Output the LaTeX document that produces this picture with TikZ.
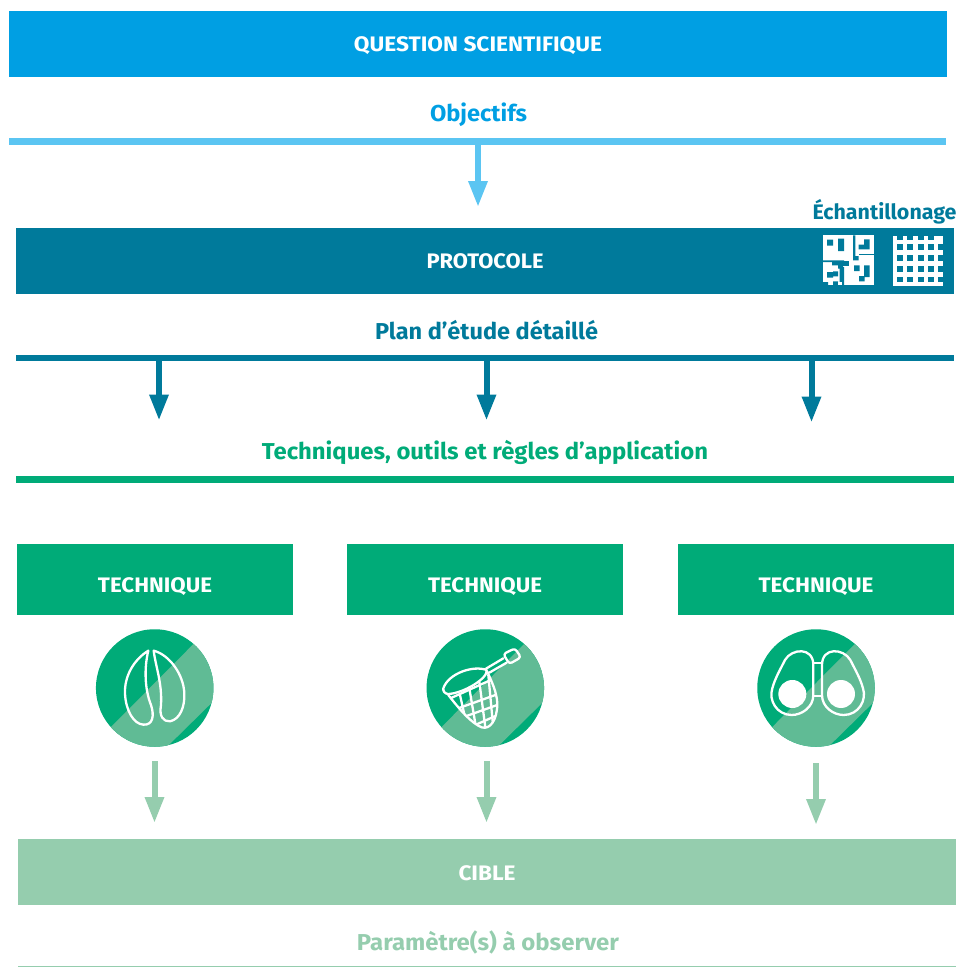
\documentclass[tikz,border=0pt]{standalone}
\usepackage{fontspec}
\usepackage{graphicx}
\setmainfont{Fira Sans}
\usetikzlibrary{arrows.meta,calc}
\definecolor{cblue}{HTML}{009FE3}
\definecolor{clight}{HTML}{5BC5F2}
\definecolor{cteal}{HTML}{007A9B}
\definecolor{cgreen}{HTML}{00AB78}
\definecolor{cpale}{HTML}{95CDAE}
\definecolor{cband}{HTML}{60BB95}
\newcommand{\fit}[2]{\resizebox{#1pt}{\height}{\bfseries #2}}
\tikzset{
  box/.style={rectangle,inner sep=0pt,outer sep=0pt,text=white,font=\fontsize{21}{21}\selectfont,text height=15pt,text depth=0pt},
  rulebar/.style={rectangle,inner sep=0pt,outer sep=0pt,minimum height=#1},
  head/.style={inner sep=0pt,outer sep=0pt,font=\fontsize{23}{23}\selectfont,text height=16pt,text depth=0pt},
  arr/.style={line width=6pt,-{Triangle[length=26pt,width=18pt]}},
  icon/.style={white,line width=2.3pt,line join=round,line cap=round},
}
\newcommand{\disc}[3]{%
  \node[circle,fill=cgreen,minimum size=117.5pt,inner sep=0pt,outer sep=0pt] (#3) at (#1,#2) {};
  \begin{scope}
    \clip (#1,#2) circle (58.75);
    \fill[cband] ($(#1,#2)+(78.5,-84)$) -- ($(#1,#2)+(-82.5,78)$) -- ($(#1,#2)+(-26.5,97)$) -- ($(#1,#2)+(97.5,-25)$) -- cycle;
  \end{scope}}
\begin{document}
\begin{tikzpicture}[x=1pt,y=-1pt]
\useasboundingbox (0,0) rectangle (956,967);
% top block
\node[box,fill=cblue,minimum width=938pt,minimum height=66pt] (q) at (478,44) {\fit{248}{QUESTION SCIENTIFIQUE}};
\node[head,text=cblue] (obj) at (478.5,113.5) {\fit{97}{Objectifs}};
\node[rulebar=7pt,fill=clight,minimum width=937pt] (objline) at (477.5,141.5) {};
\coordinate (a1s) at (478,145);
\coordinate (a1e) at (478,207);
\draw[arr,clight] (a1s) -- (a1e);
% protocole
\node[box,fill=cteal,minimum width=938pt,minimum height=66pt] (p) at (485,261) {\fit{117}{PROTOCOLE}};
\node[head,text=cteal,font=\fontsize{21}{21}\selectfont] (ech) at (884.5,211.5) {\fit{144}{Échantillonage}};
\node[head,text=cteal] (plan) at (486.5,331.5) {\fit{223}{Plan d’étude détaillé}};
\node[rulebar=6pt,fill=cteal,minimum width=938pt] (planline) at (485,358) {};
\foreach \n/\x/\e in {b1/159/420.5,b2/486.5/420.5,b3/811.5/422.5}{
  \coordinate (\n s) at (\x,361);
  \coordinate (\n e) at (\x,\e);
  \draw[arr,cteal] (\n s) -- (\n e);
}
% QR icon
\begin{scope}[shift={(818,232)},x=0.3333pt,y=-0.3333pt]
  \fill[white] (15,10) rectangle (167,160);
  \fill[cteal] (27,23) rectangle (45,41) (60,20) rectangle (78,57);
  \fill[cteal] (105,10) rectangle (112,72) (105,72) rectangle (122,85);
  \fill[cteal] (122,38) rectangle (138,52) (138,22) rectangle (155,52);
  \fill[cteal] (122,66) rectangle (167,69);
  \fill[cteal] (15,85) rectangle (78,90) (42,85) rectangle (60,100) (60,85) rectangle (75,110) (65,105) rectangle (78,160);
  \fill[cteal] (75,87) rectangle (92,103);
  \fill[cteal] (45,118) rectangle (60,133) (27,120) rectangle (45,137);
  \fill[cteal] (108,100) rectangle (125,117) (138,100) rectangle (155,135) (123,132) rectangle (140,148);
  \fill[cteal] (15,150) rectangle (30,160) (45,148) rectangle (60,160);
  \fill[white] (60,150) rectangle (72,160);
\end{scope}
% grid icon
\begin{scope}[shift={(800,195)},x=0.3333pt,y=-0.3333pt]
  \fill[white] (278,122) rectangle (430,272);
  \foreach \x in {291,321,354,384}{
    \foreach \y in {148,180,213,245}{
      \fill[cteal] (\x,\y) rectangle ++(17,17);
    }
    \fill[cteal] (\x,122) rectangle ++(17,12);
  }
  \foreach \y in {148,180,213,245}{
    \fill[cteal] (415,\y) rectangle ++(15,17);
  }
\end{scope}
% green heading
\node[head,text=cgreen] (tech) at (485,451.5) {\fit{446}{Techniques, outils et règles d’application}};
\node[rulebar=7pt,fill=cgreen,minimum width=938pt] (techline) at (485,479.5) {};
% technique boxes
\foreach \n/\x/\w in {t1/155/114,t2/485/114,t3/816/115}{
  \node[box,fill=cgreen,minimum width=276pt,minimum height=71pt] (\n) at (\x,579.5) {\raisebox{-5pt}{\fit{\w}{TECHNIQUE}}};
}
% discs
\disc{154.7}{688}{d1}
\disc{485.3}{688}{d2}
\disc{816}{688}{d3}
% hoof
\begin{scope}[shift={(85,620)},x=0.3333pt,y=-0.3333pt]
  \draw[icon] (190,92) .. controls (145,120) and (118,170) .. (120,220) .. controls (122,270) and (145,312) .. (175,314) .. controls (205,316) and (208,285) .. (198,255) .. controls (178,205) and (178,140) .. (190,92) -- cycle;
  \draw[icon] (206,92) .. controls (212,140) and (232,190) .. (228,255) .. controls (222,290) and (235,305) .. (255,304) .. controls (285,298) and (300,260) .. (298,220) .. controls (296,165) and (255,105) .. (206,92) -- cycle;
\end{scope}
% net
\begin{scope}[shift={(440,640)},x=0.3333pt,y=-0.3333pt]
  \begin{scope}
    \clip (25,165) .. controls (60,210) and (95,250) .. (125,262) .. controls (150,270) and (172,240) .. (172,190) .. controls (170,155) and (155,125) .. (142,95) -- cycle;
    \draw[icon,line cap=butt] (60,165) -- (78,245) (88,145) -- (108,262) (118,125) -- (137,270) (145,105) -- (160,265);
    \draw[icon,line cap=butt] (20,180) -- (170,112) (35,212) -- (180,160) (60,235) -- (180,192) (90,262) -- (180,222);
  \end{scope}
  \fill[cgreen] (10,145) .. controls (25,100) and (100,80) .. (140,90) .. controls (140,115) and (70,155) .. (25,160) -- cycle;
  \draw[icon] (10,145) .. controls (25,100) and (100,75) .. (140,90) .. controls (145,115) and (70,160) .. (25,162) .. controls (15,162) and (8,153) .. (10,145) -- cycle;
  \draw[icon] (25,165) .. controls (60,210) and (95,250) .. (125,262) .. controls (150,270) and (172,240) .. (172,190) .. controls (170,155) and (155,125) .. (142,95);
  \draw[icon] (138,86) -- (190,55) (148,98) -- (200,68);
  \draw[icon,rounded corners=3pt] (190,42) -- (225,25) -- (243,52) -- (208,72) -- cycle;
\end{scope}
% binoculars
\begin{scope}[shift={(745,620)},x=0.3333pt,y=-0.3333pt]
  \draw[icon] (120,120) .. controls (140,85) and (205,80) .. (205,135) -- (205,225) .. controls (205,262) and (170,285) .. (140,285) .. controls (95,285) and (70,240) .. (82,205) .. controls (90,175) and (105,150) .. (120,120) -- cycle;
  \draw[icon] (316,120) .. controls (296,85) and (231,80) .. (231,135) -- (231,225) .. controls (231,262) and (266,285) .. (296,285) .. controls (341,285) and (366,240) .. (354,205) .. controls (346,175) and (331,150) .. (316,120) -- cycle;
  \draw[icon] (205,128) -- (231,128) (205,228) -- (231,228);
  \fill[white] (142,222) circle (42) (288,222) circle (42);
\end{scope}
% pale arrows
\foreach \n/\x/\s/\e in {c1/154.5/761/823,c2/486.5/761/823,c3/816/763/825}{
  \coordinate (\n s) at (\x,\s);
  \coordinate (\n e) at (\x,\e);
  \draw[arr,cpale] (\n s) -- (\n e);
}
% cible
\node[box,fill=cpale,minimum width=938pt,minimum height=66pt] (c) at (487,872) {\raisebox{-1pt}{\fit{57}{CIBLE}}};
\node[head,text=cpale] (par) at (488,942.5) {\fit{262}{Paramètre(s) à observer}};
\node[rulebar=1pt,fill=cpale,minimum width=938pt] (parline) at (487,966.5) {};
\end{tikzpicture}
\end{document}
